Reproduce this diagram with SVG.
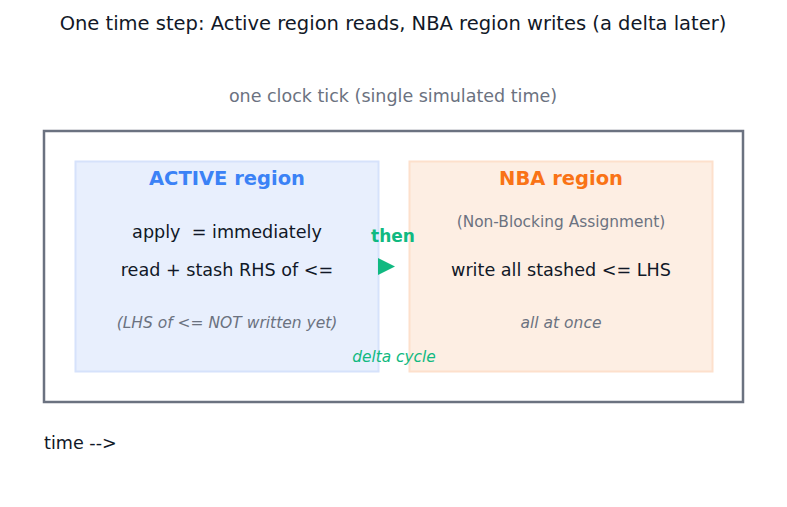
<svg xmlns="http://www.w3.org/2000/svg" width="787" height="507" viewBox="0 0 787 507">
<style>
text{font-family:"DejaVu Sans","Noto Sans",sans-serif;text-anchor:middle}
.t{font-size:19.5px;fill:#111827}
.sub{font-size:17.5px;fill:#6b7280}
.h{font-size:19.5px;font-weight:bold}
.b{font-size:17.6px;fill:#111827}
.n{font-size:15.4px;fill:#6b7280}
.i{font-size:15.5px;font-style:italic;fill:#6b7280}
.g{fill:#10b981}
</style>
<rect width="787" height="507" fill="#fff"/>
<text class="t" x="393" y="30">One time step: Active region reads, NBA region writes (a delta later)</text>
<text class="sub" x="393" y="102">one clock tick (single simulated time)</text>
<g id="tick">
<rect x="44" y="131" width="699" height="271" fill="none" stroke="#6b7280" stroke-width="2.5"/>
</g>
<g id="active">
<rect x="75.5" y="161.5" width="303" height="210" fill="#e8effd" stroke="#d6e2fb" stroke-width="2"/>
<text class="h" x="227" y="185" fill="#3b82f6">ACTIVE region</text>
<text class="b" x="227" y="238" xml:space="preserve">apply  = immediately</text>
<text class="b" x="227" y="276">read + stash RHS of &lt;=</text>
<text class="i" x="227" y="328">(LHS of &lt;= NOT written yet)</text>
</g>
<g id="nba">
<rect x="409.5" y="161.5" width="303" height="210" fill="#fdeee3" stroke="#fde0cc" stroke-width="2"/>
<text class="h" x="561" y="185" fill="#f97316">NBA region</text>
<text class="n" x="561" y="227">(Non-Blocking Assignment)</text>
<text class="b" x="561" y="276">write all stashed &lt;= LHS</text>
<text class="i" x="561" y="328">all at once</text>
</g>
<g id="connectors">
<path d="M378,258 L395,266.5 L378,275 z" fill="#10b981"/>
<text class="g" x="393" y="242" style="font-size:17px;font-weight:bold">then</text>
<text class="g" x="394" y="362" style="font-size:15.4px;font-style:italic">delta cycle</text>
</g>
<text class="b" x="44" y="449" style="text-anchor:start">time --&gt;</text>
</svg>
